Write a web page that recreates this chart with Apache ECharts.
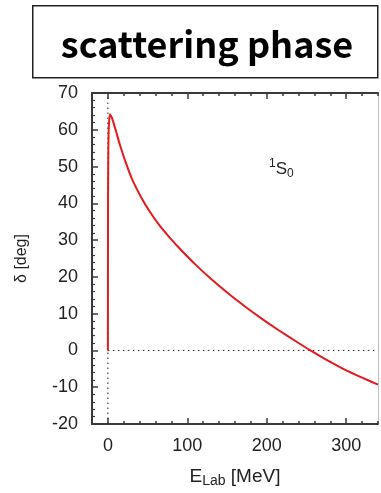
<!DOCTYPE html>
<html>
<head>
<meta charset="utf-8">
<script src="https://cdn.jsdelivr.net/npm/echarts@6/dist/echarts.min.js"></script>
<style>
  html, body { margin: 0; padding: 0; background: #fff; }
  #chart { width: 381px; height: 493px; }
</style>
</head>
<body>
<div id="chart"></div>
<script>
// 1S0 phase shift versus lab energy
const energyMeV = [0, 0.2, 0.6, 1.2, 2.5, 5, 10, 15, 23, 31, 42, 52, 65, 77, 90, 110, 130, 152, 173, 194, 215, 238, 255, 277, 298, 320, 340];
const phaseDeg  = [0, 42, 55, 61, 64.2, 63.3, 59.8, 56.0, 50.8, 46.3, 41.6, 38.0, 34.0, 30.9, 27.8, 23.4, 19.4, 15.4, 11.9, 8.6, 5.5, 2.3, 0, -2.8, -5.2, -7.4, -9.3];

const xMajorTicks = [0, 100, 200, 300];
const xRange = [-20, 340];
const yRange = [-20, 70];

const axisColor = '#3a3a3a';
const labelFont = '"Liberation Sans", Arial, Helvetica, sans-serif';

const chart = echarts.init(document.getElementById('chart'), null, { renderer: 'canvas' });

// one axis carries the line, labels and minor ticks,
// a second overlapping one draws the longer major ticks
function xAxisPair(position, withLabels) {
  return [
    {
      type: 'value', position: position, min: xRange[0], max: xRange[1], interval: 20,
      axisLine: { show: true, onZero: false, lineStyle: { color: axisColor, width: 2 } },
      axisTick: { show: true, inside: true, length: 3, lineStyle: { color: axisColor, width: 1.5 } },
      axisLabel: {
        show: withLabels, color: '#222', fontSize: 18, fontFamily: labelFont, margin: 13,
        formatter: v => (v % 100 === 0 && v >= 0 ? String(v) : '')
      },
      splitLine: { show: false },
      name: withLabels ? '{e|E}{s|Lab}{e| [MeV]}' : '',
      nameLocation: 'middle', nameGap: 41,
      nameTextStyle: {
        rich: {
          e: { fontSize: 19, fontFamily: labelFont, color: '#222' },
          s: { fontSize: 14, fontFamily: labelFont, color: '#222', padding: [9, 0, 0, 0] }
        }
      }
    },
    {
      type: 'value', position: position, min: xRange[0], max: xRange[1],
      axisLine: { show: false, onZero: false },
      axisTick: { show: true, inside: true, length: 6, customValues: xMajorTicks, lineStyle: { color: axisColor, width: 1.5 } },
      axisLabel: { show: false },
      splitLine: { show: false }
    }
  ];
}

const guideStyle = { color: '#222', width: 1, type: [1.5, 3.5] };

const option = {
  animation: false,
  backgroundColor: '#fff',
  grid: { left: 92, right: 1, top: 93, bottom: 63, containLabel: false },
  xAxis: [...xAxisPair('bottom', true), ...xAxisPair('top', false)],
  yAxis: [
    {
      type: 'value', position: 'left', min: yRange[0], max: yRange[1], interval: 10,
      axisLine: { show: true, onZero: false, lineStyle: { color: axisColor, width: 2 } },
      axisTick: { show: true, inside: true, length: 6, lineStyle: { color: axisColor, width: 1.5 } },
      minorTick: { show: true, splitNumber: 5, length: 3, lineStyle: { color: axisColor, width: 1.2 } },
      axisLabel: { color: '#222', fontSize: 18, fontFamily: labelFont, margin: 14 },
      splitLine: { show: false },
      name: 'δ [deg]', nameLocation: 'middle', nameGap: 62, nameRotate: 90,
      nameTextStyle: { fontSize: 16, fontFamily: labelFont, color: '#222' }
    },
    {
      type: 'value', position: 'right', min: yRange[0], max: yRange[1], interval: 10,
      axisLine: { show: true, onZero: false, lineStyle: { color: '#bdbdbd', width: 1 } },
      axisTick: { show: false }, axisLabel: { show: false }, splitLine: { show: false }
    }
  ],
  series: [
    // dotted guides at E = 0 and δ = 0
    {
      type: 'line', xAxisIndex: 0, yAxisIndex: 0, silent: true, showSymbol: false, z: 1,
      data: [[0, yRange[0]], [0, yRange[1]]],
      lineStyle: guideStyle
    },
    {
      type: 'line', xAxisIndex: 0, yAxisIndex: 0, silent: true, showSymbol: false, z: 1,
      data: [[0, 0], [xRange[1], 0]],
      lineStyle: guideStyle
    },
    {
      type: 'line',
      xAxisIndex: 0, yAxisIndex: 0,
      data: energyMeV.map((e, i) => [e, phaseDeg[i]]),
      showSymbol: false,
      smooth: 0.2,
      lineStyle: { color: '#e41a1c', width: 2 },
      z: 3
    }
  ],
  graphic: [
    {
      type: 'rect', left: 32, top: 5,
      shape: { width: 345, height: 72 },
      style: { fill: '#fff', stroke: '#222', lineWidth: 1.5 }
    },
    {
      type: 'text', x: 207, y: 44.5,
      style: {
        text: 'scattering phase', fill: '#000',
        font: 'bold 36px "Noto Sans CJK JP", "Noto Sans", sans-serif',
        textAlign: 'center', textVerticalAlign: 'middle'
      }
    },
    {
      type: 'text', x: 269, y: 158,
      style: {
        text: '{sup|1}{m|S}{sub|0}',
        rich: {
          sup: { fontSize: 12, fontFamily: labelFont, fill: '#222', padding: [0, 0, 10, 0] },
          m: { fontSize: 17, fontFamily: labelFont, fill: '#222' },
          sub: { fontSize: 12, fontFamily: labelFont, fill: '#222', padding: [10, 0, 0, 0] }
        }
      }
    }
  ]
};

chart.setOption(option);
</script>
</body>
</html>
